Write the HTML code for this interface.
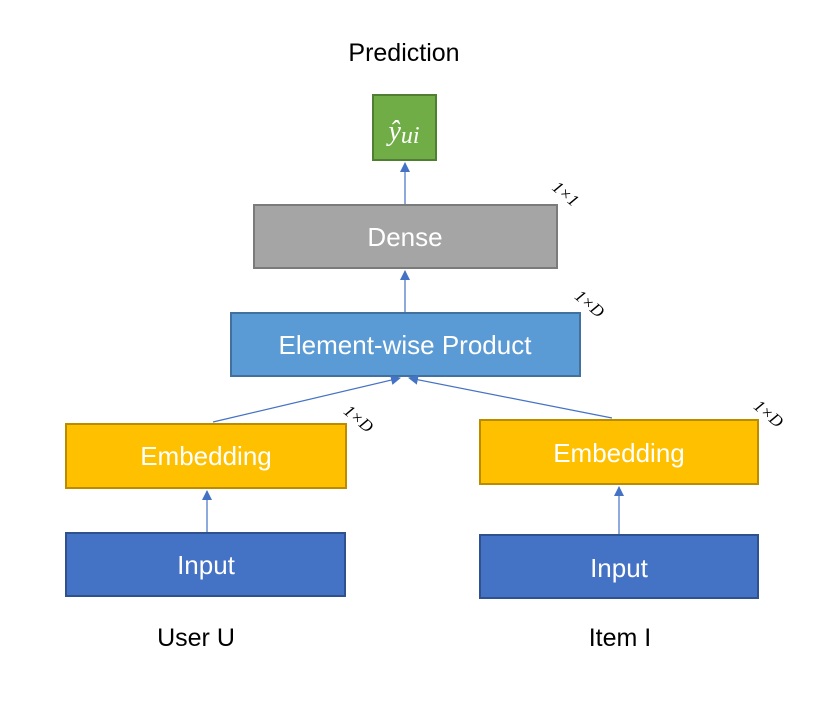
<!DOCTYPE html>
<html><head><meta charset="utf-8"><style>
html,body{margin:0;padding:0;background:#fff;}
svg{display:block;}
</style></head><body>
<svg width="824" height="704" viewBox="0 0 824 704" xmlns="http://www.w3.org/2000/svg">
<defs>
<marker id="a" viewBox="0 0 10 10" refX="9" refY="5" markerWidth="10" markerHeight="10" markerUnits="userSpaceOnUse" orient="auto">
<path d="M0,0 L10,5 L0,10 z" fill="#4472C4"/></marker>
</defs>
<g font-family="Liberation Sans, sans-serif">
<text x="404" y="61" font-size="25" text-anchor="middle" fill="#000">Prediction</text>
<rect x="373" y="95" width="63" height="65" fill="#70AD47" stroke="#507E32" stroke-width="2"/>
<text x="404" y="140" font-size="28" font-family="Liberation Serif, serif" font-style="italic" text-anchor="middle" fill="#fff">ŷ<tspan font-size="24" dy="3">ui</tspan></text>
<line x1="405" y1="204" x2="405" y2="163" stroke="#4472C4" stroke-width="1.2" marker-end="url(#a)"/>
<rect x="254" y="205" width="303" height="63" fill="#A5A5A5" stroke="#7B7B7B" stroke-width="2"/>
<text x="405" y="246" font-size="26" text-anchor="middle" fill="#fff">Dense</text>
<line x1="405" y1="312" x2="405" y2="271" stroke="#4472C4" stroke-width="1.2" marker-end="url(#a)"/>
<rect x="231" y="313" width="349" height="63" fill="#5B9BD5" stroke="#41719C" stroke-width="2"/>
<text x="405" y="354" font-size="26" text-anchor="middle" fill="#fff">Element-wise Product</text>
<line x1="213" y1="422" x2="400" y2="378" stroke="#4472C4" stroke-width="1.2" marker-end="url(#a)"/>
<line x1="612" y1="418" x2="409" y2="378" stroke="#4472C4" stroke-width="1.2" marker-end="url(#a)"/>
<rect x="66" y="424" width="280" height="64" fill="#FFC000" stroke="#BC8C00" stroke-width="2"/>
<text x="206" y="465" font-size="26" text-anchor="middle" fill="#fff">Embedding</text>
<rect x="480" y="420" width="278" height="64" fill="#FFC000" stroke="#BC8C00" stroke-width="2"/>
<text x="619" y="462" font-size="26" text-anchor="middle" fill="#fff">Embedding</text>
<line x1="207" y1="532" x2="207" y2="491" stroke="#4472C4" stroke-width="1.2" marker-end="url(#a)"/>
<line x1="619" y1="534" x2="619" y2="487" stroke="#4472C4" stroke-width="1.2" marker-end="url(#a)"/>
<rect x="66" y="533" width="279" height="63" fill="#4472C4" stroke="#2F528F" stroke-width="2"/>
<text x="206" y="574" font-size="26" text-anchor="middle" fill="#fff">Input</text>
<rect x="480" y="535" width="278" height="63" fill="#4472C4" stroke="#2F528F" stroke-width="2"/>
<text x="619" y="577" font-size="26" text-anchor="middle" fill="#fff">Input</text>
<text x="196" y="646" font-size="25" text-anchor="middle" fill="#000">User U</text>
<text x="620" y="646" font-size="25" text-anchor="middle" fill="#000">Item I</text>
<g font-family="Liberation Serif, serif" font-style="italic" font-size="17" fill="#000" text-anchor="middle">
<text transform="translate(562,198) rotate(40)">1×1</text>
<text transform="translate(586,308) rotate(40)">1×D</text>
<text transform="translate(355,423) rotate(40)">1×D</text>
<text transform="translate(765,418) rotate(40)">1×D</text>
</g>
</g>
</svg>
</body></html>
